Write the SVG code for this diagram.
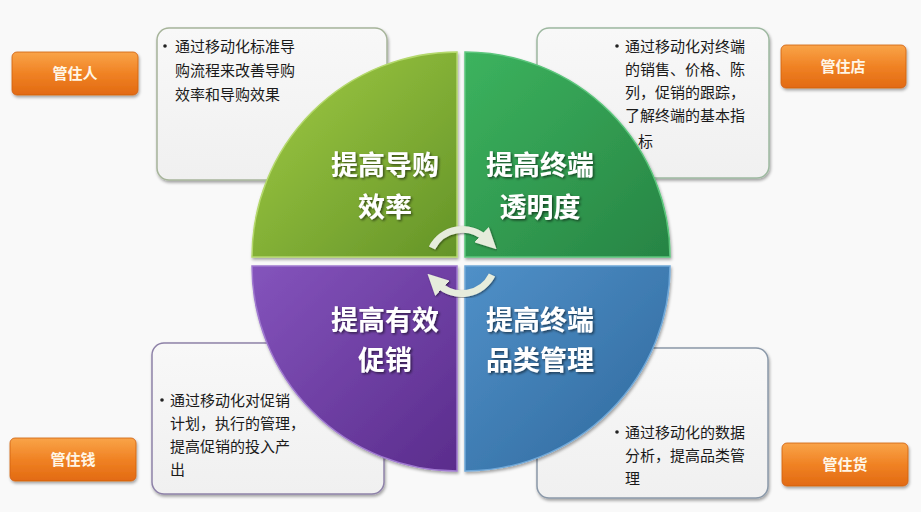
<svg xmlns="http://www.w3.org/2000/svg" width="921" height="512" viewBox="0 0 921 512">
<defs>
<linearGradient id="gTL" x1="0" y1="0" x2="1" y2="1"><stop offset="0" stop-color="#a2cc44"/><stop offset="1" stop-color="#649428"/></linearGradient>
<linearGradient id="gTR" x1="0" y1="0" x2="1" y2="1"><stop offset="0" stop-color="#3cb35e"/><stop offset="1" stop-color="#278444"/></linearGradient>
<linearGradient id="gBL" x1="0" y1="0" x2="1" y2="1"><stop offset="0" stop-color="#8454bc"/><stop offset="1" stop-color="#5a2c8c"/></linearGradient>
<linearGradient id="gBR" x1="0" y1="0" x2="1" y2="1"><stop offset="0" stop-color="#5090c8"/><stop offset="1" stop-color="#2e689c"/></linearGradient>
<linearGradient id="gBtn" x1="0" y1="0" x2="0" y2="1"><stop offset="0" stop-color="#f9a448"/><stop offset="0.5" stop-color="#f08224"/><stop offset="1" stop-color="#e26a12"/></linearGradient>
<linearGradient id="gBox" x1="0" y1="0" x2="0" y2="1"><stop offset="0" stop-color="#f8f8f8"/><stop offset="1" stop-color="#f0f0f0"/></linearGradient>
<filter id="sh" x="-10%" y="-10%" width="130%" height="130%"><feDropShadow dx="1" dy="2" stdDeviation="1.5" flood-color="#000" flood-opacity="0.35"/></filter>
<filter id="tsh" x="-10%" y="-20%" width="130%" height="150%"><feDropShadow dx="1.5" dy="1.5" stdDeviation="1" flood-color="#000" flood-opacity="0.55"/></filter>
<filter id="ash" x="-20%" y="-20%" width="140%" height="140%"><feDropShadow dx="1" dy="1" stdDeviation="1" flood-color="#000" flood-opacity="0.5"/></filter>
<marker id="ah" viewBox="0 0 10 10" refX="3" refY="5" markerWidth="3" markerHeight="3" orient="auto" markerUnits="strokeWidth"><path d="M0,0 L10,5 L0,10 Z" fill="#e6ecdc"/></marker>
<style>
.box{fill:url(#gBox);stroke-width:1.5;filter:url(#sh)}
.bt{font-family:"Noto Sans CJK SC","Noto Sans",sans-serif;font-size:15px;fill:#1a1a1a}
.bul{fill:#222}
.ql{font-family:"Noto Sans CJK SC","Noto Sans",sans-serif;font-size:27px;font-weight:bold;fill:#fff;text-anchor:middle;filter:url(#tsh)}
.btn{fill:url(#gBtn);stroke:#d06010;stroke-width:0.8;filter:url(#sh)}
.btx{font-family:"Noto Sans CJK SC","Noto Sans",sans-serif;font-size:15px;font-weight:bold;fill:#fff6e6;text-anchor:middle}
.q{stroke-width:1.5;filter:url(#sh)}
.arc{fill:none;stroke:#e6ecdc;stroke-width:7;stroke-linecap:butt;filter:url(#ash)}
</style>
</defs>
<rect width="921" height="512" fill="#f9f9f9"/>

<g id="box-tl"><rect class="box" x="157" y="28" width="230" height="152" rx="12" stroke="#a6b49a"/>
<circle class="bul" cx="165" cy="46" r="1.8"/>
<text class="bt" x="175" y="52">通过移动化标准导</text>
<text class="bt" x="175" y="76">购流程来改善导购</text>
<text class="bt" x="175" y="100">效率和导购效果</text></g>

<g id="box-tr"><rect class="box" x="537" y="28" width="232" height="150" rx="12" stroke="#9db8a0"/>
<circle class="bul" cx="617" cy="46" r="1.8"/>
<text class="bt" x="625" y="52">通过移动化对终端</text>
<text class="bt" x="625" y="75">的销售、价格、陈</text>
<text class="bt" x="625" y="98">列，促销的跟踪，</text>
<text class="bt" x="625" y="121">了解终端的基本指</text>
<text class="bt" x="638" y="147">标</text></g>

<g id="box-bl"><rect class="box" x="152" y="343" width="232" height="151" rx="12" stroke="#8e82a8"/>
<circle class="bul" cx="162" cy="400" r="1.8"/>
<text class="bt" x="170" y="406">通过移动化对促销</text>
<text class="bt" x="170" y="429">计划，执行的管理，</text>
<text class="bt" x="170" y="452">提高促销的投入产</text>
<text class="bt" x="170" y="475">出</text></g>

<g id="box-br"><rect class="box" x="537" y="348" width="231" height="150" rx="12" stroke="#8a98a8"/>
<circle class="bul" cx="617" cy="432" r="1.8"/>
<text class="bt" x="625" y="438">通过移动化的数据</text>
<text class="bt" x="625" y="461">分析，提高品类管</text>
<text class="bt" x="625" y="484">理</text></g>

<g id="q-tl"><path class="q" d="M457,257 L252,257 A205,205 0 0 1 457,52 Z" fill="url(#gTL)" stroke="#b4d86c"/>
<text class="ql" x="385" y="175">提高导购</text><text class="ql" x="385" y="217">效率</text></g>
<g id="q-tr"><path class="q" d="M465,257 L465,52 A205,205 0 0 1 670,257 Z" fill="url(#gTR)" stroke="#5cc67c"/>
<text class="ql" x="540" y="175">提高终端</text><text class="ql" x="540" y="217">透明度</text></g>
<g id="q-bl"><path class="q" d="M457,266 L457,471 A205,205 0 0 1 252,266 Z" fill="url(#gBL)" stroke="#a07ad0"/>
<text class="ql" x="385" y="330">提高有效</text><text class="ql" x="385" y="370">促销</text></g>
<g id="q-br"><path class="q" d="M465,266 L670,266 A205,205 0 0 1 465,471 Z" fill="url(#gBR)" stroke="#70a8d8"/>
<text class="ql" x="540" y="330">提高终端</text><text class="ql" x="540" y="370">品类管理</text></g>

<g id="connectors">
<path class="arc" d="M432,248 A34,34 0 0 1 486,239" marker-end="url(#ah)"/>
<path class="arc" d="M492,275 A34,34 0 0 1 438,284" marker-end="url(#ah)"/>
</g>

<g id="btn-ren"><rect class="btn" x="12" y="52" width="126" height="43" rx="5"/><text class="btx" x="75" y="79">管住人</text></g>
<g id="btn-dian"><rect class="btn" x="781" y="45" width="125" height="43" rx="5"/><text class="btx" x="843" y="72">管住店</text></g>
<g id="btn-qian"><rect class="btn" x="10" y="438" width="126" height="43" rx="5"/><text class="btx" x="73" y="465">管住钱</text></g>
<g id="btn-huo"><rect class="btn" x="782" y="443" width="126" height="43" rx="5"/><text class="btx" x="845" y="470">管住货</text></g>
</svg>
